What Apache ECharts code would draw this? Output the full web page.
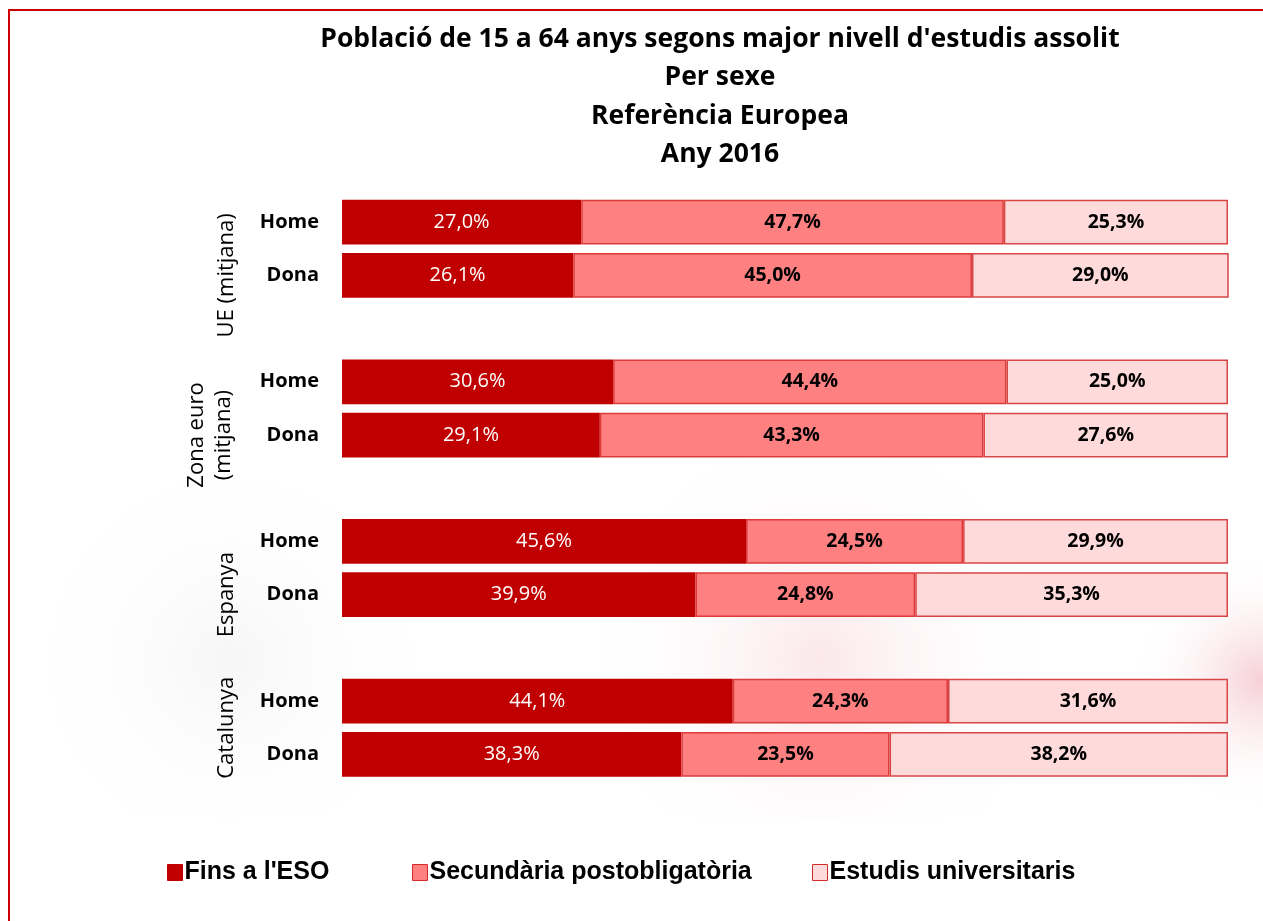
<!DOCTYPE html>
<html>
<head>
<meta charset="utf-8">
<script src="https://cdn.jsdelivr.net/npm/echarts@6/dist/echarts.min.js"></script>
<style>
  html, body { margin: 0; padding: 0; background: #fff; }
  #chart { width: 1263px; height: 921px; }
</style>
</head>
<body>
<div id="chart"></div>
<script>
// files: Home, Dona, buit (separació entre grups)
const groups = ['UE (mitjana)', 'Zona euro\n(mitjana)', 'Espanya', 'Catalunya']
const rows = ['UE|Home', 'UE|Dona', 'gap1', 'ZE|Home', 'ZE|Dona', 'gap2',
  'ES|Home', 'ES|Dona', 'gap3', 'CAT|Home', 'CAT|Dona']
const seriesNames = ["Fins a l'ESO", 'Secundària postobligatòria', 'Estudis universitaris']
const finsESO = [27.0, 26.1, null, 30.6, 29.1, null, 45.6, 39.9, null, 44.1, 38.3]
const secundaria = [47.7, 45.0, null, 44.4, 43.3, null, 24.5, 24.8, null, 24.3, 23.5]
const universitaris = [25.3, 29.0, null, 25.0, 27.6, null, 29.9, 35.3, null, 31.6, 38.2]

const font = '"Open Sans", sans-serif'
const fmt = p => p.value == null ? '' : p.value.toFixed(1).replace('.', ',') + '%'

const chart = echarts.init(document.getElementById('chart'))

function legend(name, left, color, border) {
  return {
    data: [name],
    left: left,
    top: 860,
    padding: 0,
    itemWidth: 15,
    itemHeight: 16,
    itemGap: 0,
    icon: 'rect',
    selectedMode: false,
    textStyle: { fontFamily: 'Liberation Sans, Arial', fontWeight: 'bold', fontSize: 25, color: '#000', padding: [0, 0, 0, -3] },
    itemStyle: { color: color, borderColor: border, borderWidth: 1 }
  }
}

function blob(x, y, w, h, color) {
  return {
    type: 'rect', z: -10, silent: true,
    shape: { x: x, y: y, width: w, height: h },
    style: {
      fill: new echarts.graphic.RadialGradient(0.5, 0.5, 0.5, [
        { offset: 0, color: color },
        { offset: 1, color: 'rgba(255,255,255,0)' }
      ])
    }
  }
}

const option = {
  backgroundColor: '#fff',
  animation: false,
  title: {
    text: "Població de 15 a 64 anys segons major nivell d'estudis assolit\nPer sexe\nReferència Europea\nAny 2016",
    left: 715,
    top: 15,
    textAlign: 'center',
    textStyle: { fontFamily: font, fontWeight: 'bold', fontSize: 26.5, lineHeight: 38.5, color: '#000' }
  },
  legend: [
    legend(seriesNames[0], 167, '#C00000', '#C00000'),
    legend(seriesNames[1], 412, '#FF8080', '#D42A2A'),
    legend(seriesNames[2], 812, '#FFDADA', '#D42A2A')
  ],
  grid: { left: 342, right: 35, top: 195.5, bottom: 140 },
  xAxis: { type: 'value', min: 0, max: 100, show: false },
  yAxis: {
    type: 'category',
    inverse: true,
    data: rows,
    axisLine: { show: false },
    axisTick: { show: false },
    axisLabel: {
      margin: 23,
      fontFamily: font,
      fontWeight: 'bold',
      fontSize: 20,
      color: '#000',
      formatter: v => v.indexOf('|') >= 0 ? v.split('|')[1] : ''
    }
  },
  series: [
    {
      name: seriesNames[0], type: 'bar', stack: 'total', barCategoryGap: '16%',
      data: finsESO,
      itemStyle: { color: '#C00000' },
      label: { show: true, color: '#fff', fontFamily: font, fontSize: 20, formatter: fmt }
    },
    {
      name: seriesNames[1], type: 'bar', stack: 'total',
      data: secundaria,
      itemStyle: { color: '#FF8080', borderColor: '#DB3B3B', borderWidth: 1.5 },
      label: { show: true, color: '#000', fontFamily: font, fontWeight: 'bold', fontSize: 19.5, formatter: fmt }
    },
    {
      name: seriesNames[2], type: 'bar', stack: 'total',
      data: universitaris,
      itemStyle: { color: '#FFDADA', borderColor: '#D84545', borderWidth: 1.5 },
      label: { show: true, color: '#000', fontFamily: font, fontWeight: 'bold', fontSize: 19.5, formatter: fmt }
    }
  ]
}

chart.setOption(option)

// etiquetes de grup, centrades sobre les files de cada grup
const groupSpans = [[0, 2], [3, 5], [6, 8], [9, 10]]
const slot = chart.convertToPixel({ yAxisIndex: 0 }, rows[1]) - chart.convertToPixel({ yAxisIndex: 0 }, rows[0])
const groupText = groups.map((g, i) => {
  const y0 = chart.convertToPixel({ yAxisIndex: 0 }, rows[groupSpans[i][0]]) - slot / 2
  const y1 = chart.convertToPixel({ yAxisIndex: 0 }, rows[groupSpans[i][1]]) + slot / 2
  return {
    type: 'text',
    x: g.indexOf('\n') >= 0 ? 237 : 240,
    y: (y0 + y1) / 2,
    rotation: Math.PI / 2,
    style: {
      text: g,
      fontFamily: font,
      fontSize: 22,
      lineHeight: 27,
      fill: '#000',
      align: 'center',
      verticalAlign: 'bottom'
    }
  }
})

chart.setOption({
  graphic: [
    // marc vermell
    { type: 'line', shape: { x1: 8, y1: 10, x2: 1263, y2: 10 }, style: { stroke: '#CC0000', lineWidth: 2 }, z: 10 },
    { type: 'line', shape: { x1: 9, y1: 10, x2: 9, y2: 921 }, style: { stroke: '#CC0000', lineWidth: 2 }, z: 10 },
    // marca d'aigua difuminada
    blob(1130, 380, 260, 600, 'rgba(236,150,165,0.45)'),
    blob(470, 420, 700, 480, 'rgba(240,170,182,0.28)'),
    blob(20, 420, 420, 480, 'rgba(0,0,0,0.035)'),
    // caixa blanca de la llegenda
    { type: 'rect', shape: { x: 83, y: 818, width: 1095, height: 110 }, style: { fill: '#fff' }, z: -5 },
    ...groupText
  ]
})
</script>
</body>
</html>
